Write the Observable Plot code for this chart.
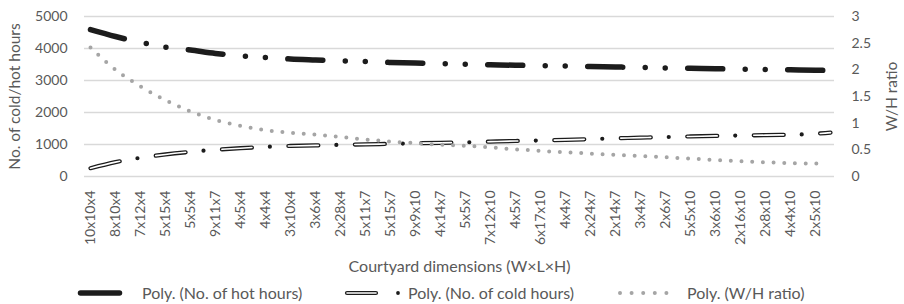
<!DOCTYPE html>
<html><head><meta charset="utf-8">
<script src="https://cdn.jsdelivr.net/npm/d3@7"></script>
<script src="https://cdn.jsdelivr.net/npm/@observablehq/plot@0.6"></script>
<style>
body{margin:0;background:#fff;font-family:Lato,sans-serif;}
#chart{width:904px;height:304px;position:relative;overflow:hidden;}
#legend{display:block;}
#legend text{font-family:Lato,sans-serif;font-size:16px;fill:#595959;}
</style></head><body><div id="chart"></div>
<script>
// Category axis (courtyard dimensions W x L x H)
const categories = ["10x10x4","8x10x4","7x12x4","5x15x4","5x5x4","9x11x7","4x5x4","4x4x4","3x10x4","3x6x4",
  "2x28x4","5x11x7","5x15x7","9x9x10","4x14x7","5x5x7","7x12x10","4x5x7","6x17x10","4x4x7",
  "2x24x7","2x14x7","3x4x7","2x6x7","5x5x10","3x6x10","2x16x10","2x8x10","4x4x10","2x5x10"];
// Poly. trendline values read at each category
const hotHours = [4590,4375,4190,4045,3950,3845,3768,3722,3672,3642,3615,3590,3565,3545,3527,3510,3492,3477,3463,3450,
  3437,3422,3408,3393,3379,3368,3356,3345,3334,3322];
const coldHours = [260,450,585,690,770,835,885,925,955,972,988,1005,1020,1038,1052,1068,1090,1110,1127,1145,
  1168,1193,1214,1232,1252,1268,1280,1293,1306,1335];
const whRatio = [2.42,2.0,1.69,1.43,1.22,1.06,0.95,0.87,0.82,0.785,0.74,0.695,0.655,0.625,0.597,0.575,0.545,0.51,0.48,0.455,
  0.43,0.405,0.383,0.36,0.335,0.31,0.287,0.267,0.252,0.242];
// trendline tails past the last category
const tailPos = 29.6, whTailPos = 29.4;
const hotTail = 3312, coldTail = 1372, whTail = 0.236;
// axis ticks
const leftTicks = [0,1000,2000,3000,4000,5000];
const rightTicks = [0,0.5,1,1.5,2,2.5,3];
const K = 5000 / 3; // right axis (ratio) mapped onto the hours scale

const rows = categories.map((c, i) => ({pos: i, hot: hotHours[i], cold: coldHours[i]}));
rows.push({pos: tailPos, hot: hotTail, cold: coldTail});
const whRows = categories.map((c, i) => ({pos: i, wh: whRatio[i]}));
whRows.push({pos: whTailPos, wh: whTail});

const txt = "#595959";
const chart = Plot.plot({
  width: 904, height: 280,
  marginLeft: 84, marginRight: 70, marginTop: 16, marginBottom: 104,
  x: {type: "linear", domain: [-0.24, 29.76]},
  y: {domain: [0, 5000]},
  style: {fontFamily: "Lato, sans-serif", fontSize: "14px", color: txt, background: "white"},
  marks: [
    Plot.gridY(leftTicks, {stroke: "#d9d9d9", strokeOpacity: 1, strokeWidth: 1.3}),
    Plot.axisY(leftTicks, {anchor: "left", tickSize: 0, tickPadding: 17, label: null, fill: txt, fontSize: 14,
      tickFormat: v => String(v)}),
    Plot.axisY(rightTicks.map(r => r * K), {anchor: "right", tickSize: 0, tickPadding: 17, label: null, fill: txt, fontSize: 14,
      tickFormat: v => String(+(v / K).toFixed(1))}),
    Plot.axisX(d3.range(categories.length), {anchor: "bottom", tickSize: 0, tickPadding: 14, tickRotate: -90, label: null,
      fill: txt, fontSize: 14, tickFormat: i => categories[i]}),
    Plot.line(rows, {x: "pos", y: "hot", stroke: "#1c1c1c", strokeWidth: 5.5, strokeLinecap: "round",
      strokeDasharray: "35 22.5 0 20 0 22.5", curve: "catmull-rom"}),
    Plot.line(rows, {x: "pos", y: "cold", stroke: "#1c1c1c", strokeWidth: 4.2, strokeLinecap: "round",
      strokeDasharray: "30 18 0 18.5", curve: "catmull-rom"}),
    Plot.line(rows, {x: "pos", y: "cold", stroke: "white", strokeWidth: 1.6, strokeLinecap: "round",
      strokeDasharray: "30 36.5", curve: "catmull-rom"}),
    Plot.line(whRows, {x: "pos", y: d => d.wh * K, stroke: "#a5a5a5", strokeWidth: 4, strokeLinecap: "round",
      strokeDasharray: "0 10.7", curve: "catmull-rom"}),
    Plot.text(["No. of cold/hot hours"], {text: d => d, frameAnchor: "left", dx: -69, rotate: -90,
      textAnchor: "middle", lineAnchor: "middle", fill: txt, fontSize: 15.5}),
    Plot.text(["W/H ratio"], {text: d => d, frameAnchor: "right", dx: 58, rotate: -90,
      textAnchor: "middle", lineAnchor: "middle", fill: txt, fontSize: 15.5}),
    Plot.text(["Courtyard dimensions (W×L×H)"], {text: d => d, frameAnchor: "bottom", dy: 90,
      textAnchor: "middle", lineAnchor: "middle", fill: txt, fontSize: 16})
  ]
});
document.getElementById("chart").appendChild(chart);

// legend below the chart
const lg = d3.select("#chart").append("svg").attr("id", "legend").attr("width", 904).attr("height", 24);
const cy = 13;
lg.append("line").attr("x1", 80.5).attr("x2", 119.5).attr("y1", cy).attr("y2", cy)
  .attr("stroke", "#1c1c1c").attr("stroke-width", 5.5).attr("stroke-linecap", "round");
lg.append("text").attr("x", 142).attr("y", cy).attr("dy", "0.35em").text("Poly. (No. of hot hours)");
lg.append("line").attr("x1", 347).attr("x2", 376).attr("y1", cy).attr("y2", cy)
  .attr("stroke", "#1c1c1c").attr("stroke-width", 4.2).attr("stroke-linecap", "round");
lg.append("line").attr("x1", 347).attr("x2", 376).attr("y1", cy).attr("y2", cy)
  .attr("stroke", "white").attr("stroke-width", 1.6).attr("stroke-linecap", "round");
lg.append("circle").attr("cx", 398).attr("cy", cy).attr("r", 1.9).attr("fill", "#1c1c1c");
lg.append("text").attr("x", 408).attr("y", cy).attr("dy", "0.35em").text("Poly. (No. of cold hours)");
lg.append("line").attr("x1", 620).attr("x2", 678).attr("y1", cy).attr("y2", cy)
  .attr("stroke", "#a5a5a5").attr("stroke-width", 4).attr("stroke-linecap", "round").attr("stroke-dasharray", "0 11.6");
lg.append("text").attr("x", 687).attr("y", cy).attr("dy", "0.35em").text("Poly. (W/H ratio)");
</script></body></html>
